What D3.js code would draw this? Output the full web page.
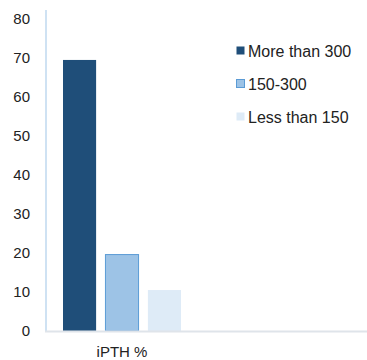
<!DOCTYPE html>
<html>
<head>
<meta charset="utf-8">
<script src="https://cdn.jsdelivr.net/npm/d3@7"></script>
<style>
    body { margin: 0; background: #fff; }
    svg { display: block; font-family: "Liberation Sans", Arial, sans-serif; }
</style>
</head>
<body>
<svg id="chart" width="367" height="360"></svg>
<script>
const categories = ["iPTH %"];
const seriesNames = ["More than 300", "150-300", "Less than 150"];
const seriesValues = [69.5, 19.6, 10.5];
const yTicks = [0, 10, 20, 30, 40, 50, 60, 70, 80];

const fills = ["#1f4e79", "#9dc3e6", "#deebf7"];
const strokes = ["none", "#5b9bd5", "none"];

const width = 367, height = 360;
const margin = { top: 19, right: 0, bottom: 29, left: 46 };

const svg = d3.select("#chart");

const y = d3.scaleLinear()
    .domain([0, 80])
    .range([height - margin.bottom, margin.top]);

// bars of the single category, inside the left part of the plot
const x1 = d3.scaleBand()
    .domain(seriesNames)
    .range([63, 181])
    .paddingInner(0.22);

// y tick labels
svg.append("g")
    .selectAll("text")
    .data(yTicks)
    .enter()
    .append("text")
    .attr("x", 30)
    .attr("y", d => y(d))
    .attr("dy", "0.35em")
    .attr("text-anchor", "end")
    .attr("font-size", 15)
    .attr("fill", "#222")
    .text(d => d);

// vertical axis line
svg.append("line")
    .attr("x1", 46).attr("x2", 46)
    .attr("y1", 10).attr("y2", y(0))
    .attr("stroke", "#cfe2f3")
    .attr("stroke-width", 2);

// bars
svg.append("g")
    .selectAll("rect")
    .data(seriesValues)
    .enter()
    .append("rect")
    .attr("x", (d, i) => x1(seriesNames[i]))
    .attr("y", d => y(d))
    .attr("width", x1.bandwidth())
    .attr("height", d => y(0) - y(d))
    .attr("fill", (d, i) => fills[i])
    .attr("stroke", (d, i) => strokes[i])
    .attr("stroke-width", 1);

// baseline
svg.append("line")
    .attr("x1", 45).attr("x2", width)
    .attr("y1", y(0) + 0.5).attr("y2", y(0) + 0.5)
    .attr("stroke", "#dfe4ea")
    .attr("stroke-width", 2);

// category label
svg.append("text")
    .attr("x", 122)
    .attr("y", 357)
    .attr("text-anchor", "middle")
    .attr("font-size", 15)
    .attr("fill", "#222")
    .text(categories[0]);

// legend
const legend = svg.append("g")
    .selectAll("g")
    .data(seriesNames)
    .enter()
    .append("g")
    .attr("transform", (d, i) => `translate(236, ${51 + i * 33})`);

legend.append("rect")
    .attr("x", 0.5)
    .attr("y", -4.5)
    .attr("width", 8)
    .attr("height", 8)
    .attr("fill", (d, i) => fills[i])
    .attr("stroke", (d, i) => strokes[i]);

legend.append("text")
    .attr("x", 12)
    .attr("y", 0)
    .attr("dy", "0.35em")
    .attr("font-size", 16)
    .attr("fill", "#222")
    .text(d => d);
</script>
</body>
</html>
